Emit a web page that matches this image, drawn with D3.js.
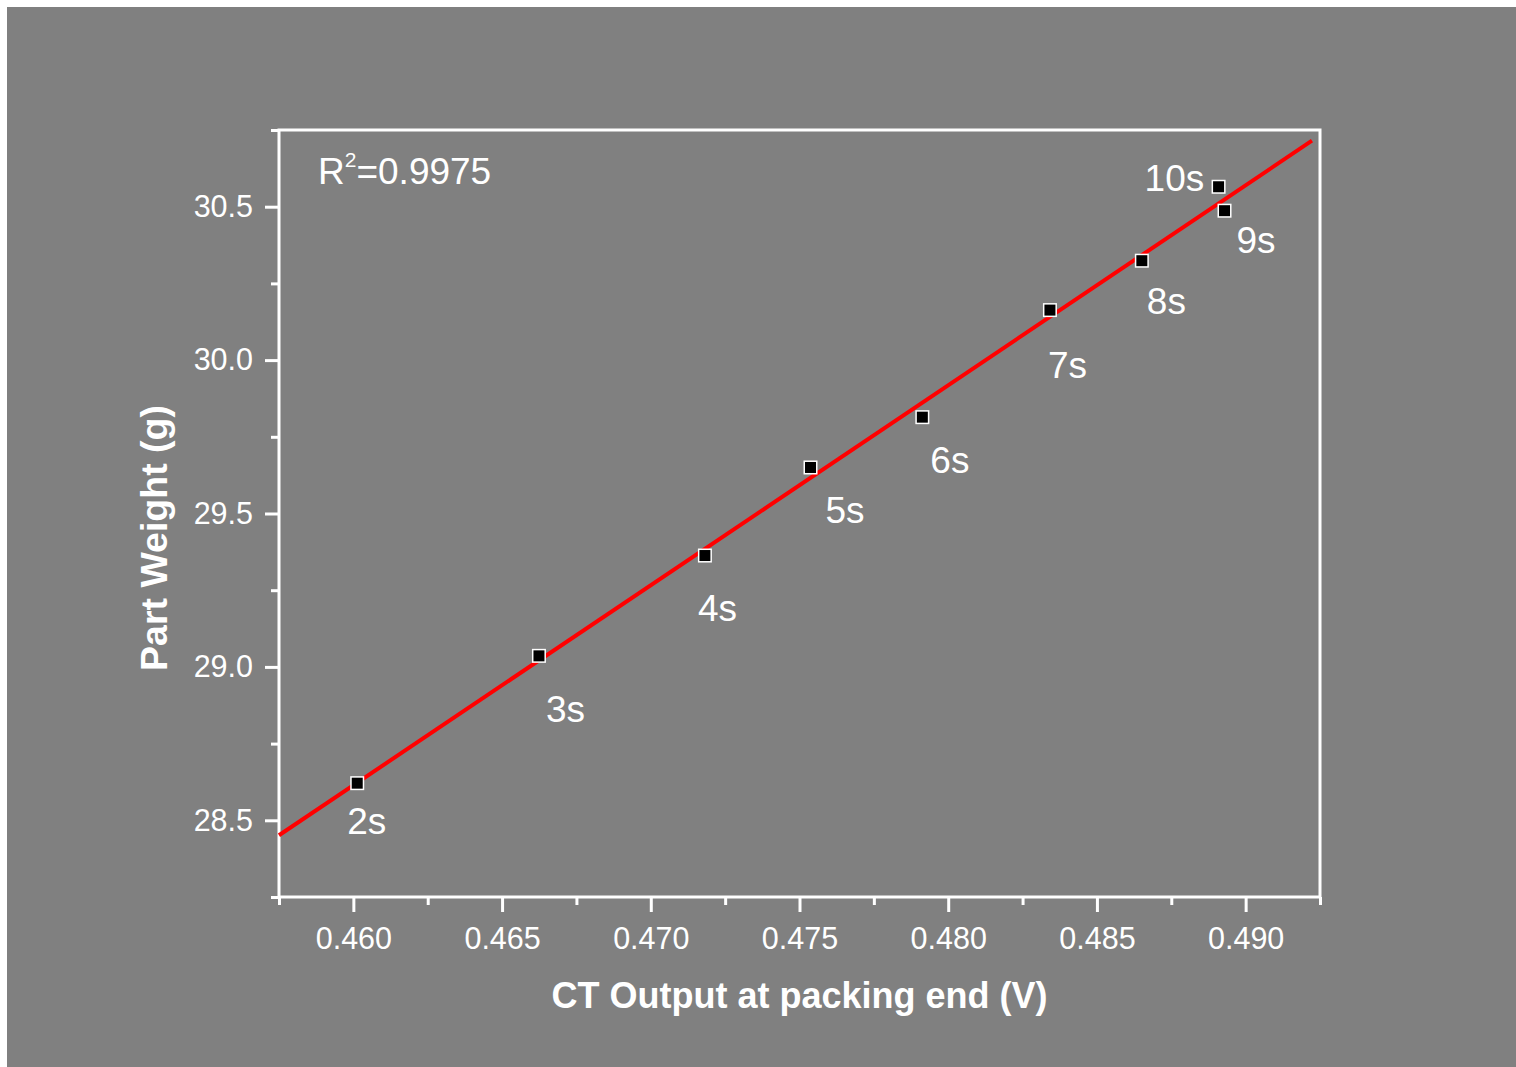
<!DOCTYPE html>
<html>
<head>
<meta charset="utf-8">
<script src="https://cdn.jsdelivr.net/npm/d3@7"></script>
<style>
  html, body { margin: 0; padding: 0; background: #ffffff; }
  svg { display: block; font-family: "Liberation Sans", Arial, sans-serif; }
</style>
</head>
<body>
<svg id="chart" width="1516" height="1067"></svg>
<script>
// Packing time labels, CT voltage at packing end and resulting part weight
const times = ["2s", "3s", "4s", "5s", "6s", "7s", "8s", "9s", "10s"];
const ctOutput = [0.46013, 0.46624, 0.47182, 0.47537, 0.47913, 0.48342, 0.48651, 0.48929, 0.48909];
const partWeight = [28.621, 29.036, 29.363, 29.650, 29.814, 30.163, 30.324, 30.487, 30.565];

// Axis ticks
const xMajorTicks = [0.460, 0.465, 0.470, 0.475, 0.480, 0.485, 0.490];
const xMinorTicks = [0.4575, 0.4625, 0.4675, 0.4725, 0.4775, 0.4825, 0.4875, 0.4925];
const yMajorTicks = [28.5, 29.0, 29.5, 30.0, 30.5];
const yMinorTicks = [28.25, 28.75, 29.25, 29.75, 30.25, 30.75];
const rSquaredText = "=0.9975";

// Extent over which the fitted line is drawn
const fitRange = [0.4575, 0.49223];

// Label placement relative to each marker (pixels)
const labelOffsets = [[-10, 51], [7, 66], [-7, 65], [15, 56], [8, 56], [-2, 68], [5, 53], [12, 42], [-74, 4]];

const W = 1516, H = 1067;
const plot = { left: 279, right: 1320, top: 130, bottom: 897 };
const svg = d3.select("#chart");

svg.append("rect").attr("x", 7).attr("y", 7).attr("width", W - 7).attr("height", H - 7).attr("fill", "#808080");

const x = d3.scaleLinear().domain([0.4575, 0.4925]).range([plot.left, plot.right]);
const y = d3.scaleLinear().domain([28.25, 30.75]).range([plot.bottom, plot.top]);

const axisColor = "#ffffff";
const axisWidth = 3;

// Bottom axis: major ticks with labels, minor ticks without
const gx = svg.append("g").attr("transform", `translate(0,${plot.bottom})`);
gx.call(d3.axisBottom(x).tickValues(xMajorTicks).tickFormat(d3.format(".3f")).tickSize(15).tickSizeOuter(0).tickPadding(15));
const gxMinor = svg.append("g").attr("transform", `translate(0,${plot.bottom})`);
gxMinor.call(d3.axisBottom(x).tickValues(xMinorTicks).tickFormat("").tickSize(8).tickSizeOuter(0));

// Left axis
const gy = svg.append("g").attr("transform", `translate(${plot.left},0)`);
gy.call(d3.axisLeft(y).tickValues(yMajorTicks).tickFormat(d3.format(".1f")).tickSize(14).tickSizeOuter(0).tickPadding(12));
const gyMinor = svg.append("g").attr("transform", `translate(${plot.left},0)`);
gyMinor.call(d3.axisLeft(y).tickValues(yMinorTicks).tickFormat("").tickSize(8).tickSizeOuter(0));

[gx, gxMinor, gy, gyMinor].forEach(g => {
  g.select(".domain").remove();
  g.selectAll(".tick line").attr("stroke", axisColor).attr("stroke-width", axisWidth);
  g.selectAll(".tick text").attr("fill", "#ffffff").attr("font-size", 30.5)
    .attr("font-family", "'Liberation Sans', Arial, sans-serif");
});

// Frame around the plot area
svg.append("rect")
  .attr("x", plot.left).attr("y", plot.top)
  .attr("width", plot.right - plot.left).attr("height", plot.bottom - plot.top)
  .attr("fill", "none").attr("stroke", axisColor).attr("stroke-width", axisWidth);

// Least-squares fit of weight against CT output
const n = ctOutput.length;
const mx = d3.mean(ctOutput), my = d3.mean(partWeight);
let sxy = 0, sxx = 0;
for (let i = 0; i < n; i++) {
  sxy += (ctOutput[i] - mx) * (partWeight[i] - my);
  sxx += (ctOutput[i] - mx) ** 2;
}
const slope = sxy / sxx;
const intercept = my - slope * mx;

svg.append("path")
  .datum(fitRange.map(v => [v, intercept + slope * v]))
  .attr("d", d3.line().x(d => x(d[0])).y(d => y(d[1])))
  .attr("fill", "none").attr("stroke", "#ff0000").attr("stroke-width", 4);

// Data markers
const pts = times.map((t, i) => ({ t, cx: ctOutput[i], w: partWeight[i], off: labelOffsets[i] }));
const size = 12.5;
svg.append("g").selectAll("rect").data(pts).join("rect")
  .attr("x", d => x(d.cx) - size / 2).attr("y", d => y(d.w) - size / 2)
  .attr("width", size).attr("height", size)
  .attr("fill", "#000000").attr("stroke", "#ffffff").attr("stroke-width", 1.5);

// Packing time labels
svg.append("g").selectAll("text").data(pts).join("text")
  .attr("x", d => x(d.cx) + d.off[0]).attr("y", d => y(d.w) + d.off[1])
  .attr("fill", "#ffffff").attr("font-size", 37)
  .text(d => d.t);

// Coefficient of determination
const r2 = svg.append("text").attr("x", 318).attr("y", 184).attr("fill", "#ffffff").attr("font-size", 37);
r2.append("tspan").text("R");
r2.append("tspan").attr("font-size", 21).attr("dy", -17).text("2");
r2.append("tspan").attr("dy", 17).text(rSquaredText);

// Axis titles
svg.append("text")
  .attr("x", (plot.left + plot.right) / 2).attr("y", 1008)
  .attr("text-anchor", "middle").attr("fill", "#ffffff")
  .attr("font-size", 36).attr("font-weight", "bold")
  .text("CT Output at packing end (V)");

svg.append("text")
  .attr("transform", `translate(167,538) rotate(-90)`)
  .attr("text-anchor", "middle").attr("fill", "#ffffff")
  .attr("font-size", 37.5).attr("font-weight", "bold")
  .text("Part Weight (g)");
</script>
</body>
</html>
